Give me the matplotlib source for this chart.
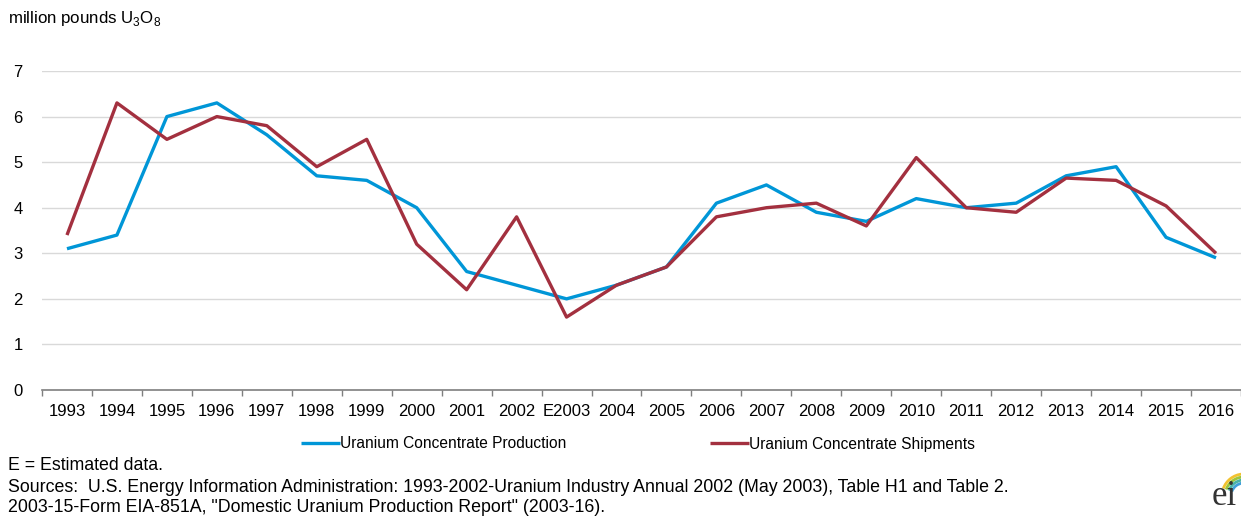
import numpy as np
import matplotlib
matplotlib.use("Agg")
import matplotlib.pyplot as plt
from matplotlib.patches import Arc

plt.rcParams['font.family'] = ['Liberation Sans', 'DejaVu Sans']
plt.rcParams['mathtext.fontset'] = 'custom'
plt.rcParams['mathtext.rm'] = 'Liberation Sans'

years = ['1993', '1994', '1995', '1996', '1997', '1998', '1999', '2000', '2001', '2002',
         'E2003', '2004', '2005', '2006', '2007', '2008', '2009', '2010', '2011', '2012',
         '2013', '2014', '2015', '2016']
production = [3.1, 3.4, 6.0, 6.3, 5.6, 4.7, 4.6, 4.0, 2.6, 2.3,
              2.0, 2.3, 2.7, 4.1, 4.5, 3.9, 3.7, 4.2, 4.0, 4.1,
              4.7, 4.9, 3.35, 2.9]
shipments = [3.4, 6.3, 5.5, 6.0, 5.8, 4.9, 5.5, 3.2, 2.2, 3.8,
             1.6, 2.3, 2.7, 3.8, 4.0, 4.1, 3.6, 5.1, 4.0, 3.9,
             4.65, 4.6, 4.04, 3.0]

blue = '#0096d7'
red = '#a3303f'

W, H = 1241, 520
fig = plt.figure(figsize=(W / 100, H / 100), dpi=100)
ax = fig.add_axes([42 / W, 1 - 390 / H, 1199 / W, 319 / H])

x = np.arange(len(years))
ax.plot(x, production, color=blue, lw=2.4, label='Uranium Concentrate Production',
        solid_capstyle='butt', zorder=3)
ax.plot(x, shipments, color=red, lw=2.4, label='Uranium Concentrate Shipments',
        solid_capstyle='butt', zorder=4)

ax.set_xlim(-0.5, len(years) - 0.5)
ax.set_ylim(0, 7)
ax.set_yticks(range(0, 8))
ax.yaxis.grid(True, color='#d9d9d9', lw=1)
ax.set_axisbelow(True)

ax.set_xticks(x)
ax.set_xticklabels(years)
ax.set_xticks(np.arange(-0.5, len(years)), minor=True)
ax.tick_params(axis='x', which='major', length=0, pad=10, labelsize=12, colors='black')
ax.tick_params(axis='x', which='minor', length=4, width=1, color='#7f7f7f')
ax.tick_params(axis='y', length=0, pad=14, labelsize=12)

for side in ['top', 'right', 'left']:
    ax.spines[side].set_visible(False)
ax.spines['bottom'].set_color('#7f7f7f')
ax.spines['bottom'].set_linewidth(1.2)

fig.text(8 / W, 1 - 18 / H, r'million pounds U$_\mathregular{3}$O$_\mathregular{8}$',
         fontsize=12.2, va='center', ha='left')

fig.legend(loc='center', bbox_to_anchor=(638 / W, 1 - 444 / H), ncol=2, frameon=False,
           fontsize=11.2, handlelength=2.5, handletextpad=0.05, columnspacing=9.2)

fig.text(8 / W, 1 - 466 / H, 'E = Estimated data.', fontsize=12.8, va='center')
fig.text(8 / W, 1 - 488 / H,
         'Sources:  U.S. Energy Information Administration: 1993-2002-Uranium Industry Annual 2002 '
         '(May 2003), Table H1 and Table 2.', fontsize=12.8, va='center')
fig.text(8 / W, 1 - 508 / H,
         '2003-15-Form EIA-851A, "Domestic Uranium Production Report" (2003-16).',
         fontsize=12.8, va='center')

# eia mark in the corner: coloured arcs over the letters
logo = fig.add_axes([1208 / W, 1 - 500 / H, 33 / W, 36 / H])
logo.set_xlim(0, 33)
logo.set_ylim(0, 36)
logo.set_aspect('equal')
logo.axis('off')
for r, c in zip([22, 19, 16, 13], ['#f2c230', '#9cc43c', '#4bb3a4', '#3f9fd8']):
    logo.add_patch(Arc((36, 4), 2 * r, 2 * r, theta1=95, theta2=160, color=c, lw=2))
fig.text(1212 / W, 1 - 505 / H, 'ei', fontsize=25, family='Liberation Serif',
         color='#333333', va='baseline', ha='left')

fig.savefig('out.png', dpi=100)
